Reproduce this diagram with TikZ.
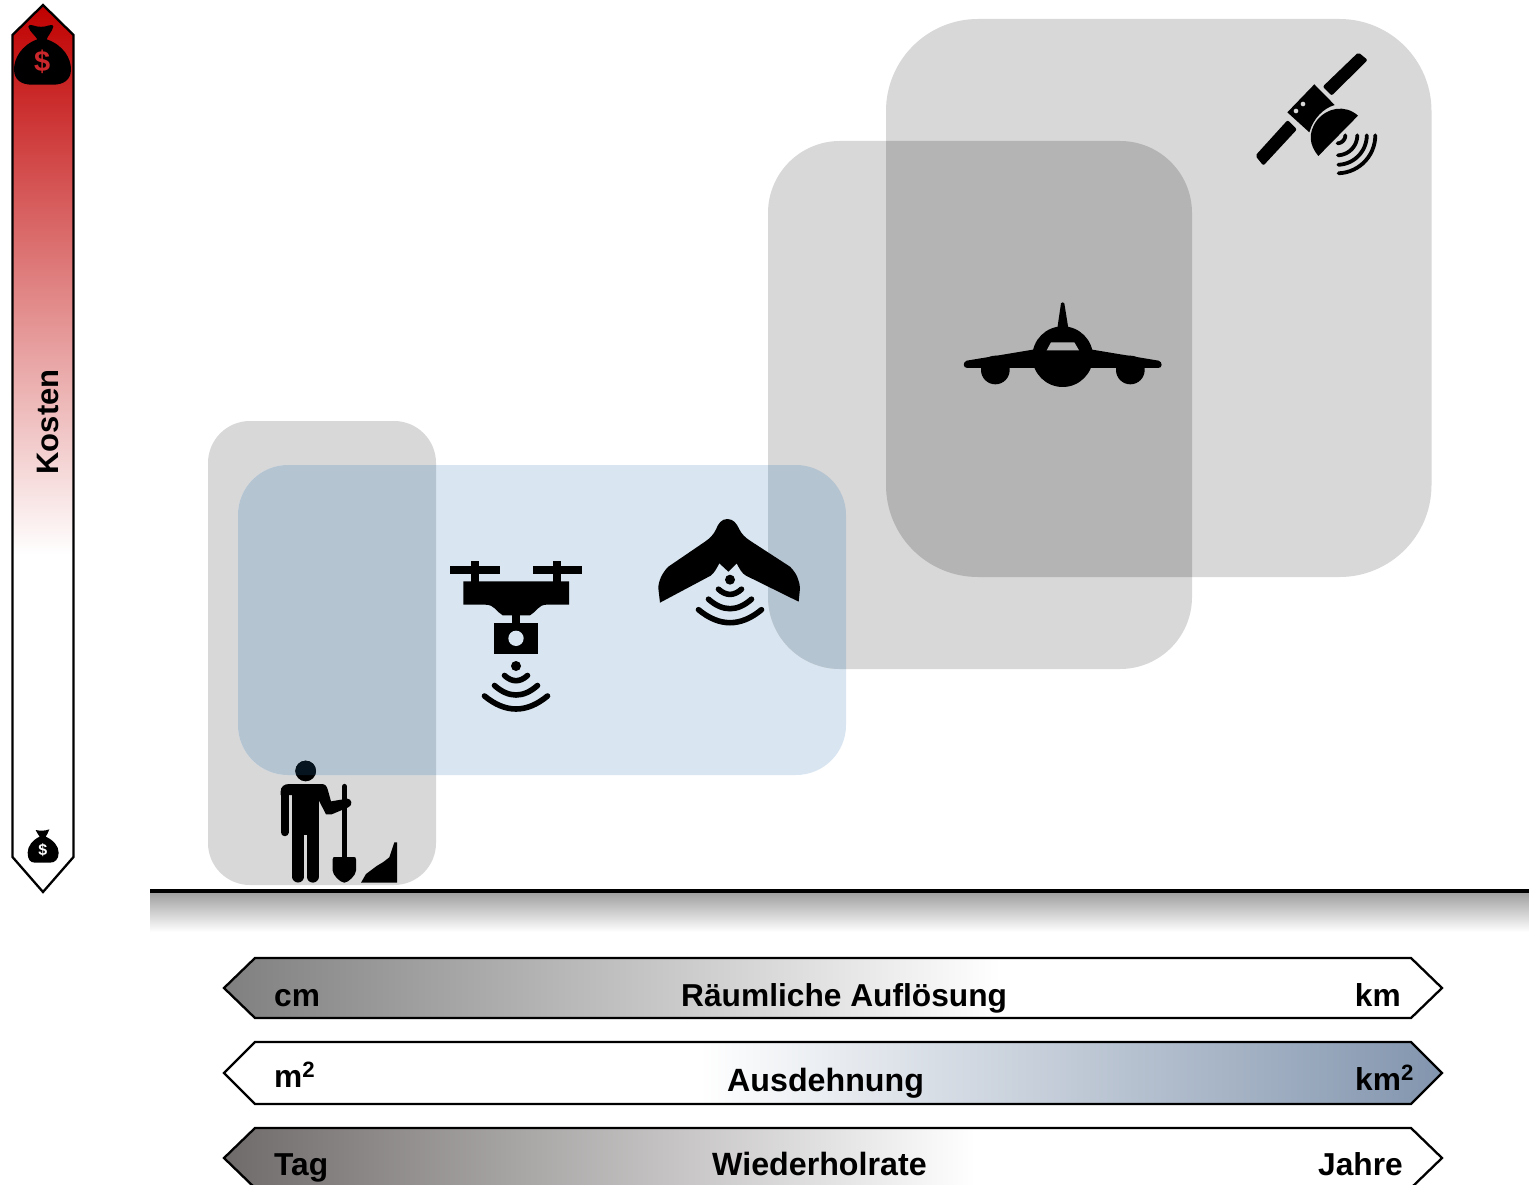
\documentclass[tikz,border=0pt]{standalone}
\usepackage{fontspec}
\setmainfont{Liberation Sans}
\definecolor{boxgray}{HTML}{D8D8D8}
\definecolor{grayover}{HTML}{B4B4B4}
\definecolor{boxblue}{HTML}{D9E6F1}
\definecolor{blueover}{HTML}{B5C4D1}
\definecolor{heavyred}{HTML}{C00000}
\definecolor{bagdollar}{HTML}{C9272B}
\definecolor{headtint}{HTML}{06141F}
\tikzset{
  outline/.style={draw=black,line width=2.3pt,line join=miter},
  label/.style={font=\fontsize{31.7}{36}\selectfont\bfseries,inner sep=0pt,text=black},
  labelwide/.style={font=\fontsize{32.2}{36}\selectfont\bfseries,inner sep=0pt,text=black},
  ink/.style={fill=black,draw=none},
  wave/.style={draw=black,line width=5.6pt,line cap=round},
  satwave/.style={draw=black,line width=3.8pt,line cap=round},
  zoomA/.style={x=0.33333pt,y=-0.33333pt}
}
\newcommand{\onearc}[4]{%
  \draw[wave] (#1-#3,#2+#4) .. controls (#1-#3/3,#2+#4+0.6667*2*\midd-0.6667*2*#4) and (#1+#3/3,#2+#4+0.6667*2*\midd-0.6667*2*#4) .. (#1+#3,#2+#4);
}
\newcommand{\signal}[2]{%
  \fill[black] (#1,#2) circle (5);
  \def\midd{14.7}\onearc{#1}{#2}{11.5}{9.5}
  \def\midd{29}\onearc{#1}{#2}{21.5}{19.5}
  \def\midd{43}\onearc{#1}{#2}{31.5}{30}
}
\newcommand{\quarterwave}[1]{%
  \draw[satwave] plot[domain=0:88,samples=16] ({1337.3+#1*cos(\x)},{135.3+#1*sin(\x)});
}
\begin{document}
\begin{tikzpicture}[x=1pt,y=-1pt]
\useasboundingbox (0,0) rectangle (1529,1185);
\fill[white] (0,0) rectangle (1529,1185);

% translucent coverage panels
\fill[boxgray,rounded corners=42] (208,421) rectangle (436,885);
\fill[boxblue,rounded corners=50] (238,465) rectangle (846,775);
\fill[boxgray,rounded corners=72] (768,141) rectangle (1192,669);
\fill[boxgray,rounded corners=92] (886,19) rectangle (1431.5,577);
\begin{scope}
  \clip[rounded corners=42] (208,421) rectangle (436,885);
  \fill[blueover,rounded corners=50] (238,465) rectangle (846,775);
\end{scope}
\begin{scope}
  \clip[rounded corners=72] (768,141) rectangle (1192,669);
  \fill[blueover,rounded corners=50] (238,465) rectangle (846,775);
  \fill[grayover,rounded corners=92] (886,19) rectangle (1431.5,577);
\end{scope}

% cost arrow
\begin{scope}
  \clip (43,5) -- (73.5,35) -- (73.5,857) -- (43,892) -- (12.5,857) -- (12.5,35) -- cycle;
  \shade[top color=heavyred,bottom color=white] (10,5) rectangle (76,555);
\end{scope}
\draw[outline] (43,5) -- (73.5,35) -- (73.5,857) -- (43,892) -- (12.5,857) -- (12.5,35) -- cycle;
\node[inner sep=0pt,font=\fontsize{31}{36}\selectfont\bfseries,rotate=90,anchor=base] (kosten) at (58,422) {Kosten};

% money bag top
\begin{scope}[zoomA]
  \fill[ink] (85,80) .. controls (87,74) and (92,74) .. (98,76)
    .. controls (115,82) and (130,82) .. (148,76)
    .. controls (155,74) and (160,74) .. (160,80)
    .. controls (155,97) and (145,105) .. (140,118)
    .. controls (190,135) and (213,175) .. (213,208)
    .. controls (213,240) and (190,254) .. (160,254)
    -- (95,254) .. controls (65,254) and (42,240) .. (42,208)
    .. controls (42,175) and (65,135) .. (112,118)
    .. controls (105,105) and (90,97) .. (85,80) -- cycle;
\end{scope}
\node[font=\fontsize{29}{30}\selectfont\bfseries,text=bagdollar,inner sep=0pt] (dollartop) at (42.3,62) {\$};

% money bag bottom
\begin{scope}[shift={(0,810)},zoomA]
  \fill[ink] (107,60) .. controls (120,63) and (135,63) .. (148,58)
    .. controls (146,68) and (140,73) .. (137,80)
    .. controls (160,90) and (176,108) .. (176,128)
    .. controls (176,148) and (165,158) .. (150,158)
    -- (105,158) .. controls (90,158) and (83,148) .. (83,128)
    .. controls (83,108) and (98,90) .. (119,80)
    .. controls (115,73) and (110,68) .. (107,60) -- cycle;
\end{scope}
\node[font=\fontsize{16}{17}\selectfont\bfseries,text=white,inner sep=0pt] (dollarbottom) at (42.8,850.5) {\$};

% satellite
\begin{scope}[shift={(1230,30)},zoomA]
  \fill[ink,rounded corners=2] (385,67) -- (413,90) -- (305,197) -- (278,170) -- cycle;
  \fill[ink,rounded corners=2] (173,270) -- (201,298) -- (100,407) -- (76,377) -- cycle;
  \fill[ink] (172,247) -- (253,163) -- (314,225)
    .. controls (280,235) and (250,265) .. (238,307) -- cycle;
  \fill[ink] (384,257) -- (265,378)
    .. controls (238,345) and (233,310) .. (260,272)
    .. controls (290,233) and (345,222) .. (384,257) -- cycle;
  \fill[boxgray] (198,243) circle (7);
  \fill[boxgray] (219,222) circle (7);
\end{scope}
\quarterwave{8}\quarterwave{20}\quarterwave{29.5}\quarterwave{38}

% aeroplane
\begin{scope}[shift={(950,290)},zoomA]
  \fill[ink] (338,200) circle (91);
  \fill[ink] (322,115) -- (333,40) .. controls (335,36) and (341,36) .. (343,40) -- (355,115) -- cycle;
  \fill[ink] (255,178) -- (50,212) .. controls (38,216) and (38,234) .. (52,234) -- (625,234)
    .. controls (638,234) and (638,216) .. (626,212) -- (421,178) -- cycle;
  \fill[ink] (136,240) circle (43);
  \fill[ink] (541,240) circle (43);
  \fill[grayover] (303,157) -- (373,157) -- (387,181) -- (290,181) -- cycle;
\end{scope}

% drone
\begin{scope}[shift={(440,510)},zoomA]
  \fill[ink] (30,168) rectangle (180,192);
  \fill[ink] (278,168) rectangle (426,192);
  \fill[ink] (93,152) rectangle (117,216);
  \fill[ink] (340,152) rectangle (364,216);
  \fill[ink] (70,214) -- (387,214) -- (387,284) -- (320,284)
    .. controls (295,284) and (290,305) .. (270,316) -- (188,316)
    .. controls (168,305) and (165,284) .. (135,284) -- (70,284) -- cycle;
  \fill[ink] (216,314) rectangle (240,340);
  \fill[ink] (163,338) rectangle (295,431);
  \fill[boxblue] (228,385) circle (23);
\end{scope}
\signal{516}{666}

% fixed-wing UAV
\begin{scope}[shift={(440,510)},zoomA]
  \fill[ink] (862,27) .. controls (845,27) and (835,40) .. (828,58)
    .. controls (822,72) and (810,85) .. (795,95)
    -- (685,170) .. controls (665,190) and (655,215) .. (655,235)
    -- (660,278) -- (812,197) .. controls (822,190) and (830,175) .. (838,160)
    -- (865,185) -- (890,160) .. controls (898,175) and (905,190) .. (918,197)
    -- (1076,275) -- (1080,235) .. controls (1078,210) and (1070,190) .. (1050,170)
    -- (930,92) .. controls (915,82) and (905,72) .. (898,58)
    .. controls (890,40) and (880,27) .. (862,27) -- cycle;
\end{scope}
\signal{730}{579.7}

% surveyor with shovel
\begin{scope}[shift={(260,750)},zoomA]
  \fill[ink] (137,63) circle (31);
  \draw[black,line width=7.8pt,line cap=round] (74,125) -- (74,247);
  \fill[ink] (62,125) .. controls (62,110) and (72,102) .. (88,102) -- (97,102) -- (97,135) -- (62,135) -- cycle;
  \fill[ink] (95,102) rectangle (176,255);
  \draw[black,line width=11.7pt,line cap=round] (114.5,200) -- (114.5,380);
  \draw[black,line width=11.9pt,line cap=round] (158,200) -- (158,380);
  \fill[ink] (176,102) -- (185,102) .. controls (195,102) and (200,108) .. (203,118)
    -- (213,154) -- (262,146) .. controls (275,146) and (280,165) .. (265,172)
    -- (215,193) -- (198,193) -- (176,150) -- cycle;
  \draw[black,line width=5.6pt,line cap=round] (253.5,110) -- (253.5,325);
  \fill[ink] (218,328) .. controls (218,322) and (220,321) .. (226,321) -- (280,321)
    .. controls (286,321) and (288,322) .. (288,328) -- (288,362)
    .. controls (288,375) and (265,398) .. (253,398)
    .. controls (241,398) and (218,375) .. (218,362) -- cycle;
  \fill[ink] (303,398) -- (318,372) -- (350,348) -- (370,336) -- (388,322) -- (403,277) -- (411,277) -- (411,398) -- cycle;
\end{scope}
\begin{scope}
  \clip[rounded corners=50] (238,465) rectangle (846,775);
  \fill[headtint] (305.7,771) circle (10.3);
\end{scope}

% ground line
\shade[top color=black!38,bottom color=white] (150,892) rectangle (1529,932);
\fill[black] (150,888.5) rectangle (1529,892.7);

% scale bars
\begin{scope}
  \clip (224,988) -- (255,958) -- (1411,958) -- (1442,988) -- (1411,1018) -- (255,1018) -- cycle;
  \shade[left color=black!50,right color=white] (224,950) rectangle (1000,1025);
\end{scope}
\draw[outline] (224,988) -- (255,958) -- (1411,958) -- (1442,988) -- (1411,1018) -- (255,1018) -- cycle;
\begin{scope}
  \clip (224,1073) -- (255,1042) -- (1411,1042) -- (1442,1073) -- (1411,1104) -- (255,1104) -- cycle;
  \shade[left color=white,right color={rgb,255:red,130;green,149;blue,174}] (700,1035) rectangle (1442,1110);
\end{scope}
\draw[outline] (224,1073) -- (255,1042) -- (1411,1042) -- (1442,1073) -- (1411,1104) -- (255,1104) -- cycle;
\begin{scope}
  \clip (224,1158) -- (255,1128) -- (1411,1128) -- (1442,1158) -- (1411,1188) -- (255,1188) -- cycle;
  \shade[left color={rgb,255:red,112;green,107;blue,107},right color=white] (224,1120) rectangle (975,1195);
\end{scope}
\draw[outline] (224,1158) -- (255,1128) -- (1411,1128) -- (1442,1158) -- (1411,1188) -- (255,1188) -- cycle;

\node[label,anchor=base west] (cm) at (274,1006) {cm};
\node[label,anchor=base west] (raum) at (681,1006) {Räumliche Auflösung};
\node[label,anchor=base east] (km) at (1401,1006) {km};
\node[label,anchor=base west] (m2) at (274,1087) {m\textsuperscript{2}};
\node[labelwide,anchor=base west] (aus) at (727,1091) {Ausdehnung};
\node[label,anchor=base west] (km2) at (1355,1090) {km\textsuperscript{2}};
\node[label,anchor=base west] (tag) at (274,1175.5) {Tag};
\node[labelwide,anchor=base west] (wieder) at (712,1175.5) {Wiederholrate};
\node[label,anchor=base east] (jahre) at (1403,1175.5) {Jahre};
\end{tikzpicture}
\end{document}
